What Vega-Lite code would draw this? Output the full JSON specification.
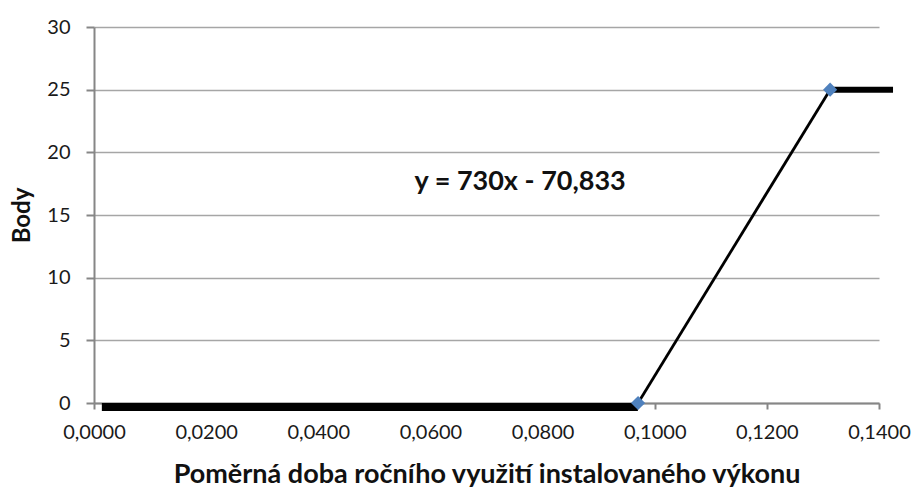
{
  "$schema": "https://vega.github.io/schema/vega-lite/v6.json",
  "width": 785,
  "height": 376,
  "autosize": {"type": "none"},
  "padding": {"left": 94, "top": 27, "right": 37, "bottom": 85},
  "background": "white",
  "config": {
    "locale": {"number": {"decimal": ",", "thousands": " ", "grouping": [3], "currency": ["", " Kč"]}},
    "view": {"stroke": null},
    "font": "Lato",
    "axis": {
      "labelFont": "Lato",
      "titleFont": "Lato",
      "labelColor": "#1a1a1a",
      "titleColor": "#111111",
      "domainColor": "#868686",
      "domainWidth": 2,
      "tickColor": "#868686",
      "tickWidth": 2,
      "gridColor": "#a6a6a6",
      "gridWidth": 1.5
    }
  },
  "layer": [
    {
      "data": {"values": [{"x": 0.0014, "y": 0}, {"x": 0.097, "y": 0}]},
      "mark": {"type": "line", "color": "black", "strokeWidth": 8, "yOffset": 4, "strokeCap": "butt"},
      "encoding": {
        "x": {"field": "x", "type": "quantitative",
          "scale": {"domain": [0, 0.14], "nice": false, "zero": false},
          "axis": {"values": [0, 0.02, 0.04, 0.06, 0.08, 0.1, 0.12, 0.14], "format": ".4f", "grid": false,
            "tickSize": 6, "labelFontSize": 20, "labelPadding": 13, "labelFlush": false, "labelOverlap": false,
            "title": "Poměrná doba ročního využití instalovaného výkonu", "titleFontSize": 27, "titleFontWeight": "bold", "titlePadding": 19}},
        "y": {"field": "y", "type": "quantitative",
          "scale": {"domain": [0, 30], "nice": false},
          "axis": {"values": [0, 5, 10, 15, 20, 25, 30], "grid": true, "tickSize": 8, "labelFontSize": 20, "labelPadding": 16, "labelFlush": false,
            "title": "Body", "titleFontSize": 24, "titleFontWeight": "bold", "titlePadding": 12}}
      }
    },
    {
      "data": {"values": [{"x": 0.09703, "y": 0}, {"x": 0.13128, "y": 25}]},
      "mark": {"type": "line", "color": "black", "strokeWidth": 2.8},
      "encoding": {
        "x": {"field": "x", "type": "quantitative"},
        "y": {"field": "y", "type": "quantitative"}
      }
    },
    {
      "data": {"values": [{"x": 0.1311, "y": 25}, {"x": 0.1425, "y": 25}]},
      "mark": {"type": "line", "color": "black", "strokeWidth": 6, "strokeCap": "butt"},
      "encoding": {
        "x": {"field": "x", "type": "quantitative"},
        "y": {"field": "y", "type": "quantitative"}
      }
    },
    {
      "data": {"values": [{"x": 0.09703, "y": 0}, {"x": 0.13128, "y": 25}]},
      "mark": {"type": "point", "shape": "diamond", "filled": true, "color": "#4f81bd", "size": 200, "opacity": 1},
      "encoding": {
        "x": {"field": "x", "type": "quantitative"},
        "y": {"field": "y", "type": "quantitative"}
      }
    },
    {
      "data": {"values": [{"x": 0.076, "y": 17.6, "label": "y = 730x - 70,833"}]},
      "mark": {"type": "text", "font": "Lato", "fontSize": 27, "fontWeight": "bold", "color": "#111111", "align": "center", "baseline": "middle"},
      "encoding": {
        "x": {"field": "x", "type": "quantitative"},
        "y": {"field": "y", "type": "quantitative"},
        "text": {"field": "label"}
      }
    }
  ]
}
